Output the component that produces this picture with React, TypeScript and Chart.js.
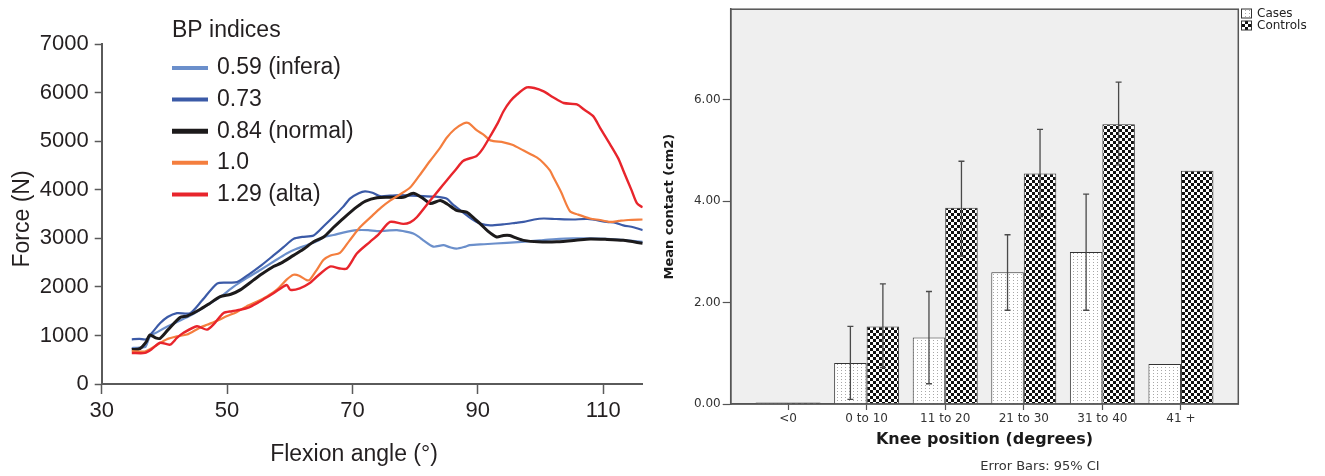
import React, { useEffect, useRef } from 'react';
import { Chart, registerables } from 'chart.js';

Chart.register(...registerables);

// ---------- Left chart data: Force (N) vs Flexion angle (deg) ----------
const flexTicks = [30, 50, 70, 90, 110];
const forceTicks = [0, 1000, 2000, 3000, 4000, 5000, 6000, 7000];

const infAngle = [34.8, 36, 37, 37.7, 39, 40.4, 42, 44, 45.7, 47.5, 49, 51, 53, 55.3, 57.5, 59.5, 61, 62.7, 64.5, 65.4, 67, 68.5, 70.7, 72.5, 73.9, 75.5, 77.1, 78.5, 79.7, 80.6, 81.3, 82.9, 84.5, 85.5, 86.6, 88, 88.7, 91, 94.6, 97, 99.9, 102, 105.2, 108, 110.6, 113, 116.3];
const infForce = [740, 750, 770, 980, 1080, 1180, 1280, 1400, 1530, 1680, 1800, 2000, 2170, 2350, 2530, 2690, 2780, 2860, 2950, 3030, 3070, 3120, 3170, 3170, 3150, 3160, 3170, 3140, 3100, 3030, 2960, 2830, 2860, 2820, 2790, 2830, 2860, 2880, 2910, 2930, 2960, 2980, 3000, 3000, 2990, 2970, 2930];

const bp73Angle = [34.8, 36, 37.1, 38, 39.3, 40.5, 42, 44.1, 46, 48.4, 50, 51.6, 53.6, 55.5, 57.4, 59, 60.6, 62, 63.8, 65.4, 67, 68.5, 69.6, 71, 72, 73.2, 74.4, 76, 77.6, 79.5, 81.3, 83.3, 85, 86, 87.2, 88.5, 89.3, 90.5, 92, 94, 96, 97.3, 99, 100.5, 102.5, 105.2, 107.5, 110.6, 112, 113.2, 114.8, 116.3];
const bp73Force = [920, 930, 920, 1050, 1250, 1380, 1460, 1460, 1720, 2070, 2090, 2100, 2270, 2450, 2650, 2820, 2990, 3030, 3060, 3250, 3450, 3650, 3820, 3930, 3970, 3940, 3870, 3880, 3890, 3880, 3870, 3860, 3820, 3700, 3580, 3450, 3380, 3300, 3270, 3290, 3320, 3340, 3390, 3410, 3400, 3390, 3400, 3340, 3320, 3270, 3230, 3170];

const normAngle = [34.8, 36.1, 37.1, 37.7, 38.6, 39.3, 40.6, 42.5, 43.6, 45.6, 47.1, 48.9, 50.6, 52.1, 54.2, 55.6, 57.4, 58.6, 60.6, 62.1, 63.8, 65.4, 67, 68.6, 70.7, 72.1, 73.9, 75.6, 78.1, 79.7, 81.1, 82.4, 84, 85.1, 86.6, 88.2, 89.6, 90.4, 91.6, 93, 94.1, 95.1, 96.1, 97.3, 99.6, 102.6, 105.6, 107.9, 110.6, 113.2, 116.3];
const normForce = [710, 730, 870, 1010, 950, 940, 1120, 1370, 1400, 1530, 1650, 1800, 1850, 1940, 2140, 2270, 2420, 2490, 2650, 2770, 2930, 3030, 3230, 3420, 3650, 3770, 3840, 3850, 3850, 3930, 3840, 3720, 3780, 3710, 3580, 3540, 3390, 3300, 3150, 3030, 3060, 3060, 3010, 2960, 2930, 2930, 2960, 2990, 2980, 2960, 2900];

const oneAngle = [34.8, 36.9, 38.5, 40.4, 42, 43.6, 45.5, 46.8, 48.5, 50, 51.5, 53.1, 54.8, 56.3, 58, 59.5, 60.6, 61.5, 62.7, 63.2, 64.2, 65.4, 66.5, 68, 69.5, 71.2, 73, 74.6, 76, 77.5, 79.2, 80.7, 82.4, 84, 85, 86.3, 87.7, 88.5, 89.8, 91, 92, 94.1, 95.5, 97.3, 99.4, 100.5, 101.5, 102.1, 103.3, 104.7, 106, 107.9, 109.5, 111.1, 112.5, 114, 116.3];
const oneForce = [680, 670, 780, 920, 980, 1020, 1150, 1220, 1310, 1400, 1480, 1600, 1700, 1800, 1950, 2150, 2250, 2230, 2140, 2150, 2330, 2560, 2650, 2700, 2950, 3230, 3450, 3640, 3780, 3900, 4050, 4300, 4600, 4870, 5070, 5250, 5370, 5380, 5230, 5130, 5020, 4980, 4930, 4810, 4670, 4550, 4400, 4250, 3950, 3560, 3490, 3410, 3380, 3340, 3360, 3380, 3390];

const altaAngle = [34.8, 36.9, 38, 39.3, 40.9, 42, 43, 45.2, 46.8, 48, 49.4, 50.8, 52.1, 53.5, 54.7, 56, 57.4, 59.5, 60.1, 61.6, 63.2, 64.3, 66.4, 68, 69.1, 70.7, 72.8, 74.2, 76, 78.1, 79.2, 80.3, 82.4, 83.8, 85, 86.5, 87.7, 89.8, 90.8, 92, 93.2, 94.1, 95.2, 96.2, 97.8, 99, 100.5, 102, 103.7, 105.8, 107, 108.4, 109.5, 111.1, 112.4, 113.2, 114.5, 115.4, 116.3];
const altaForce = [640, 640, 720, 850, 810, 950, 1050, 1190, 1120, 1250, 1460, 1500, 1530, 1580, 1660, 1760, 1870, 2040, 1940, 1970, 2080, 2210, 2420, 2380, 2380, 2690, 2930, 3090, 3340, 3300, 3330, 3440, 3780, 4000, 4190, 4420, 4600, 4700, 4850, 5110, 5380, 5620, 5830, 5960, 6110, 6100, 6030, 5910, 5790, 5760, 5650, 5520, 5280, 4940, 4650, 4400, 4000, 3720, 3640];

const bpLabels = ['0.59 (infera)', '0.73', '0.84 (normal)', '1.0', '1.29 (alta)'];
const bpColors = ['#6b8fcb', '#3b5aa7', '#1c1a1b', '#f47e3e', '#e8252c'];

// ---------- Right chart data: Mean contact (cm2) by knee position ----------
const kneeCategories = ['<0', '0 to 10', '11 to 20', '21 to 30', '31 to 40', '41 +'];
const kneeIndex = [0, 1, 2, 3, 4, 5];
const contactTicks = [0, 2, 4, 6];
const casesMean = [0.03, 0.81, 1.31, 2.6, 3.0, 0.79];
const casesLow = [null, 0.09, 0.4, 1.85, 1.85, null];
const casesHigh = [null, 1.53, 2.22, 3.34, 4.14, null];
const controlsMean = [0.03, 1.53, 3.87, 4.55, 5.52, 4.6];
const controlsLow = [null, 0.72, 2.92, 3.7, 4.72, null];
const controlsHigh = [null, 2.37, 4.79, 5.42, 6.35, null];

const LEFT_FONT = '"Liberation Sans", Arial, sans-serif';
const RIGHT_FONT = '"DejaVu Sans", Verdana, sans-serif';
const INK = '#231f20';

function makeChecker(): CanvasPattern | string {
  const c = document.createElement('canvas');
  c.width = 6;
  c.height = 6;
  const g = c.getContext('2d');
  if (!g) return '#666';
  g.fillStyle = '#ffffff';
  g.fillRect(0, 0, 6, 6);
  g.fillStyle = '#111111';
  g.fillRect(0, 0, 3, 3);
  g.fillRect(3, 3, 3, 3);
  return g.createPattern(c, 'repeat') || '#666';
}

function makeDots(): CanvasPattern | string {
  const c = document.createElement('canvas');
  c.width = 4;
  c.height = 3;
  const g = c.getContext('2d');
  if (!g) return '#fff';
  g.fillStyle = '#ffffff';
  g.fillRect(0, 0, 4, 3);
  g.fillStyle = '#a8a8a8';
  g.fillRect(1, 1, 1, 1);
  return g.createPattern(c, 'repeat') || '#fff';
}

function LeftChart() {
  const ref = useRef<HTMLCanvasElement>(null);
  useEffect(() => {
    if (!ref.current) return;
    const series = [
      { angle: infAngle, force: infForce, width: 2.2, order: 4 },
      { angle: bp73Angle, force: bp73Force, width: 2.2, order: 3 },
      { angle: normAngle, force: normForce, width: 3, order: 2 },
      { angle: oneAngle, force: oneForce, width: 2.2, order: 1 },
      { angle: altaAngle, force: altaForce, width: 2.4, order: 0 },
    ];
    const textPlugin = {
      id: 'leftText',
      afterDraw(chart: any) {
        const ctx = chart.ctx;
        ctx.save();
        ctx.fillStyle = INK;
        ctx.textBaseline = 'middle';
        ctx.textAlign = 'left';
        ctx.font = `23px ${LEFT_FONT}`;
        ctx.fillText('BP indices', 172, 31);
        bpLabels.forEach((lab, i) => {
          const y = 68 + i * 31.6;
          ctx.strokeStyle = bpColors[i];
          ctx.lineWidth = i === 2 ? 5 : 4;
          ctx.beginPath();
          ctx.moveTo(172, y);
          ctx.lineTo(208, y);
          ctx.stroke();
          ctx.fillText(lab, 217, y);
        });
        ctx.textAlign = 'center';
        ctx.fillText('Flexion angle (°)', 354, 455);
        ctx.translate(22.5, 219);
        ctx.rotate(-Math.PI / 2);
        ctx.fillText('Force (N)', 0, 0);
        ctx.restore();
      },
    };
    const chart = new Chart(ref.current, {
      type: 'line',
      data: {
        datasets: series.map((s, i) => ({
          label: bpLabels[i],
          data: s.angle.map((x, j) => ({ x, y: s.force[j] })),
          borderColor: bpColors[i],
          borderWidth: s.width,
          pointRadius: 0,
          tension: 0.25,
          fill: false,
          order: s.order,
        })),
      },
      options: {
        responsive: false,
        animation: false,
        events: [],
        layout: { padding: { top: 44.3, right: 17.3, left: 0, bottom: 0 } },
        plugins: { legend: { display: false }, tooltip: { enabled: false } },
        scales: {
          x: {
            type: 'linear',
            min: 30,
            max: 116.3,
            afterBuildTicks: (s: any) => {
              s.ticks = flexTicks.map((v) => ({ value: v }));
            },
            afterFit: (s: any) => {
              s.height = 92;
            },
            grid: { drawOnChartArea: false, drawTicks: true, tickLength: 10, tickColor: '#5a5a5a', tickWidth: 1.5 },
            border: { display: true, color: '#5a5a5a', width: 2 },
            ticks: {
              color: INK,
              font: { family: LEFT_FONT, size: 22 },
              padding: 4,
              maxRotation: 0,
              autoSkip: false,
              callback: (v: any) => String(v),
            },
          },
          y: {
            type: 'linear',
            min: 0,
            max: 7000,
            afterBuildTicks: (s: any) => {
              s.ticks = forceTicks.map((v) => ({ value: v }));
            },
            afterFit: (s: any) => {
              s.width = 101.7;
            },
            grid: { drawOnChartArea: false, drawTicks: true, tickLength: 7, tickColor: '#5a5a5a', tickWidth: 1.5 },
            border: { display: true, color: '#5a5a5a', width: 2 },
            ticks: {
              color: INK,
              font: { family: LEFT_FONT, size: 22 },
              padding: 6,
              callback: (v: any) => String(v),
            },
          },
        },
      },
      plugins: [textPlugin],
    } as any);
    return () => chart.destroy();
  }, []);
  return <canvas ref={ref} width={660} height={476} style={{ position: 'absolute', left: 0, top: 0 }} />;
}

function RightChart() {
  const ref = useRef<HTMLCanvasElement>(null);
  useEffect(() => {
    if (!ref.current) return;
    const checker = makeChecker();
    const dots = makeDots();
    const framePlugin = {
      id: 'frame',
      beforeDraw(chart: any) {
        const { ctx, chartArea: a } = chart;
        ctx.save();
        ctx.fillStyle = '#efefef';
        ctx.fillRect(a.left, a.top, a.right - a.left, a.bottom - a.top);
        ctx.restore();
      },
      afterDatasetsDraw(chart: any) {
        const ctx = chart.ctx;
        const ys = chart.scales.y;
        const sets: [(number | null)[], (number | null)[]][] = [
          [casesLow, casesHigh],
          [controlsLow, controlsHigh],
        ];
        ctx.save();
        ctx.strokeStyle = '#4a4a4a';
        ctx.lineWidth = 1.3;
        sets.forEach(([lo, hi], d) => {
          const meta = chart.getDatasetMeta(d);
          meta.data.forEach((bar: any, i: number) => {
            const l = lo[i];
            const h = hi[i];
            if (l == null || h == null) return;
            const x = bar.x;
            const y1 = ys.getPixelForValue(l);
            const y2 = ys.getPixelForValue(h);
            ctx.beginPath();
            ctx.moveTo(x, y1);
            ctx.lineTo(x, y2);
            ctx.moveTo(x - 3, y1);
            ctx.lineTo(x + 3, y1);
            ctx.moveTo(x - 3, y2);
            ctx.lineTo(x + 3, y2);
            ctx.stroke();
          });
        });
        ctx.restore();
      },
      afterDraw(chart: any) {
        const { ctx, chartArea: a } = chart;
        ctx.save();
        ctx.strokeStyle = '#555555';
        ctx.lineWidth = 1.5;
        ctx.strokeRect(a.left, a.top, a.right - a.left, a.bottom - a.top);
        // legend
        const boxX = 581.5;
        [dots, checker].forEach((p, i) => {
          const y = 9 + i * 12;
          ctx.fillStyle = p as any;
          ctx.fillRect(boxX, y, 10, 9);
          ctx.strokeStyle = '#333';
          ctx.lineWidth = 1;
          ctx.strokeRect(boxX, y, 10, 9);
        });
        ctx.fillStyle = '#222';
        ctx.font = `12px ${RIGHT_FONT}`;
        ctx.textBaseline = 'middle';
        ctx.textAlign = 'left';
        ctx.fillText('Cases', 597, 14);
        ctx.fillText('Controls', 597, 26);
        ctx.font = `13px ${RIGHT_FONT}`;
        ctx.textAlign = 'center';
        ctx.fillStyle = '#333';
        ctx.fillText('Error Bars: 95% CI', 380, 467);
        ctx.restore();
      },
    };
    const chart = new Chart(ref.current, {
      type: 'bar',
      data: {
        datasets: [
          {
            label: 'Cases',
            data: kneeIndex.map((x, i) => ({ x, y: casesMean[i] })),
            backgroundColor: dots,
            borderColor: '#333333',
            borderWidth: 1,
            categoryPercentage: 0.827,
            barPercentage: 1,
          },
          {
            label: 'Controls',
            data: kneeIndex.map((x, i) => ({ x, y: controlsMean[i] })),
            backgroundColor: checker,
            borderColor: '#333333',
            borderWidth: 1,
            categoryPercentage: 0.827,
            barPercentage: 1,
          },
        ],
      },
      options: {
        responsive: false,
        animation: false,
        events: [],
        layout: { padding: { top: 8, right: 86.7, left: 0, bottom: 0 } },
        plugins: { legend: { display: false }, tooltip: { enabled: false } },
        scales: {
          x: {
            type: 'linear',
            min: -0.73,
            max: 5.73,
            offset: false,
            afterBuildTicks: (s: any) => {
              s.ticks = kneeIndex.map((v) => ({ value: v }));
            },
            afterFit: (s: any) => {
              s.height = 72;
            },
            grid: { offset: false, drawOnChartArea: false, drawTicks: true, tickLength: 6, tickColor: '#555', tickWidth: 1.2 },
            border: { display: true, color: '#555', width: 1.5 },
            ticks: {
              color: '#333',
              font: { family: RIGHT_FONT, size: 12 },
              padding: 2,
              maxRotation: 0,
              autoSkip: false,
              callback: (v: any) => kneeCategories[Math.round(Number(v))] ?? '',
            },
            title: {
              display: true,
              text: 'Knee position (degrees)',
              color: '#1a1a1a',
              font: { family: RIGHT_FONT, size: 16, weight: 'bold' },
              padding: { top: 0, bottom: 27 },
            },
          },
          y: {
            type: 'linear',
            min: 0,
            max: 7.79,
            afterBuildTicks: (s: any) => {
              s.ticks = contactTicks.map((v) => ({ value: v }));
            },
            afterFit: (s: any) => {
              s.width = 70.7;
            },
            grid: { drawOnChartArea: false, drawTicks: true, tickLength: 8, tickColor: '#555', tickWidth: 1.2 },
            border: { display: true, color: '#555', width: 1.5 },
            ticks: {
              color: '#333',
              font: { family: RIGHT_FONT, size: 12 },
              padding: 2,
              callback: (v: any) => Number(v).toFixed(2),
            },
            title: {
              display: true,
              text: 'Mean contact (cm2)',
              color: '#1a1a1a',
              font: { family: RIGHT_FONT, size: 13, weight: 'bold' },
              padding: { top: 2, bottom: 0 },
            },
          },
        },
      },
      plugins: [framePlugin],
    } as any);
    return () => chart.destroy();
  }, []);
  return <canvas ref={ref} width={665} height={476} style={{ position: 'absolute', left: 660, top: 0 }} />;
}

export default function App() {
  return (
    <div style={{ position: 'absolute', left: 0, top: 0, width: 1325, height: 476, background: '#ffffff', overflow: 'hidden' }}>
      <LeftChart />
      <RightChart />
    </div>
  );
}
